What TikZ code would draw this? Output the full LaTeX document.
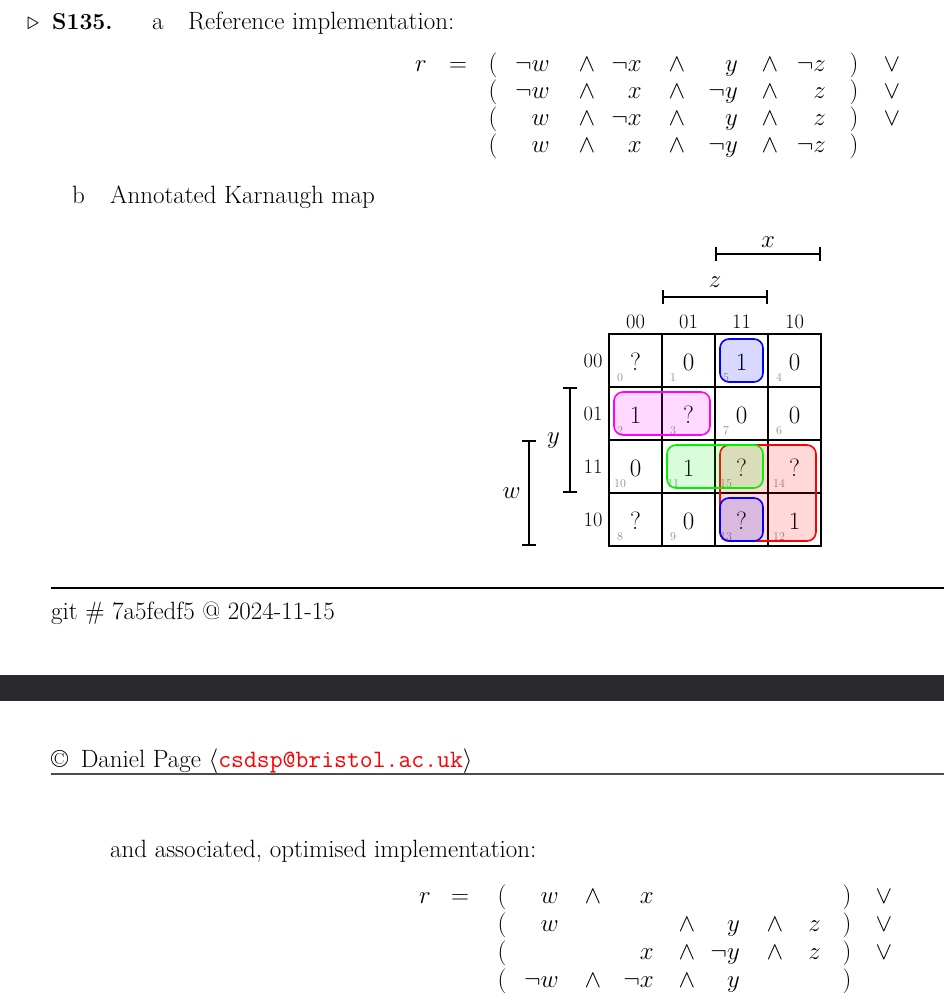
\documentclass[tikz,border=0pt]{standalone}
\usepackage{xcolor}
\usepackage{tikz}
\usetikzlibrary{arrows.meta,positioning,calc}

\definecolor{barcol}{RGB}{42,42,46}
\definecolor{kblue}{RGB}{0,0,255}
\definecolor{kmag}{RGB}{255,0,255}
\definecolor{kgreen}{RGB}{0,240,0}
\definecolor{kred}{RGB}{255,0,0}
\newcommand{\bodyfs}{\fontsize{25}{30}\selectfont}
\newcommand{\hdrfs}{\fontsize{20.5}{24}\selectfont}
\newcommand{\idxfs}{\fontsize{12}{14}\selectfont}

\begin{document}
\begin{tikzpicture}[x=1pt,y=-1pt,
  every node/.style={font=\bodyfs,inner sep=0pt},
  txt/.style={anchor=base west},
  sym/.style={anchor=base},
  opd/.style={anchor=base east},
  cell/.style={draw,line width=2pt,minimum size=53pt,outer sep=0pt,text height=19pt,text depth=0pt},
  idx/.style={anchor=base,font=\idxfs,text=black!45},
  hdr/.style={anchor=base,font=\hdrfs},
  span/.style={line width=2pt,{Bar[width=14pt]}-{Bar[width=14pt]}},
  grp/.style={draw=#1,fill=#1,fill opacity=.15,line width=1.6pt,rounded corners=9pt}]
\useasboundingbox (0,0) rectangle (944,1004);

% heading
\node[txt,font=\fontsize{34}{36}\selectfont] (tri) at (27,29) {$\triangleright$};
\node[txt,font=\fontsize{23}{28}\selectfont] (qid) at (52,29) {\textbf{S135.}};
\node[txt] (pa) at (152,29) {a};
\node[txt] (pa-t) at (188,29) {Reference implementation:};

% reference implementation
\node[sym] (r1) at (421,71) {$r$};
\node[sym] (eq1) at (458,71) {$=$};
\foreach \yy [count=\k] in {71,98,125,152} {
  \node[sym] (lp1-\k) at (493,\yy) {$($};
  \node[sym] (rp1-\k) at (854,\yy) {$)$};
  \foreach \xx [count=\j] in {587,677,770}
    \node[sym] (and1-\k-\j) at (\xx,\yy) {$\wedge$};
}
\foreach \k in {1,2,3}
  \node[sym] (or1-\k) at (892,{71+27*(\k-1)}) {$\vee$};
\foreach \xx/\yy/\v [count=\k] in {550/71/\neg w,642/71/\neg x,738/71/y,826/71/\neg z,
    550/98/\neg w,642/98/x,738/98/\neg y,826/98/z,
    550/125/w,642/125/\neg x,738/125/y,826/125/z,
    550/152/w,642/152/x,738/152/\neg y,826/152/\neg z}
  \node[opd] (v1-\k) at (\xx,\yy) {$\v$};

\node[txt] (pb) at (72,203) {b};
\node[txt] (pb-t) at (110,203) {Annotated Karnaugh map};

% karnaugh map
\foreach \v/\n [count=\k from 0] in {?/0,0/1,1/5,0/4,1/2,?/3,0/7,0/6,
    0/10,1/11,?/15,?/14,?/8,0/9,?/13,1/12} {
  \pgfmathtruncatemacro{\r}{\k/4}
  \pgfmathtruncatemacro{\c}{mod(\k,4)}
  \node[cell] (c-\r-\c) at (635.5+53*\c,360.5+53*\r) {\v};
  \node[idx] (i-\n) at ($(c-\r-\c.south west)+(11,-6)$) {\n};
}
\foreach \g [count=\c from 0] in {00,01,11,10} {
  \node[hdr] (ch-\c) at ($(c-0-\c.north)+(0,-6)$) {\g};
  \node[hdr] (rh-\c) at ($(c-\c-0.west)+(-16,7)$) {\g};
}

% spans
\coordinate (x-l) at ($(c-0-2.north west)+(0,-80)$);
\coordinate (x-r) at ($(c-0-3.north east)+(0,-80)$);
\coordinate (z-l) at ($(c-0-1.north west)+(0,-37)$);
\coordinate (z-r) at ($(c-0-2.north east)+(0,-37)$);
\coordinate (y-t) at ($(c-1-0.north west)+(-39,0)$);
\coordinate (y-b) at ($(c-2-0.south west)+(-39,0)$);
\coordinate (w-t) at ($(c-2-0.north west)+(-80,0)$);
\coordinate (w-b) at ($(c-3-0.south west)+(-80,0)$);
\draw[span] (x-l) -- (x-r);
\draw[span] (z-l) -- (z-r);
\draw[span] (y-t) -- (y-b);
\draw[span] (w-t) -- (w-b);
\node[sym] (lbl-x) at ($(x-l)!0.5!(x-r)+(0,-7)$) {$x$};
\node[sym] (lbl-z) at ($(z-l)!0.5!(z-r)+(0,-10)$) {$z$};
\node[opd] (lbl-y) at ($(y-t)!0.5!(y-b)+(-10,3)$) {$y$};
\node[opd] (lbl-w) at ($(w-t)!0.5!(w-b)+(-8,5)$) {$w$};

% groups
\draw[grp=kblue] ($(c-0-2.north west)+(5,5)$) rectangle ($(c-0-2.south east)+(-5,-5)$);
\draw[grp=kmag] ($(c-1-0.north west)+(5,5)$) rectangle ($(c-1-1.south east)+(-5,-5)$);
\draw[grp=kred] ($(c-2-2.north west)+(5,5)$) rectangle ($(c-3-3.south east)+(-5,-5)$);
\draw[grp=kgreen] ($(c-2-1.north west)+(5,5)$) rectangle ($(c-2-2.south east)+(-5,-5)$);
\draw[grp=kblue] ($(c-3-2.north west)+(5,5)$) rectangle ($(c-3-2.south east)+(-5,-5)$);

% footer
\draw[line width=1.5pt] (51,588) -- (944,588);
\node[txt] (git) at (51,619) {git \# 7a5fedf5 @ 2024-11-15};
\fill[barcol] (0,675) rectangle (944,701);
\node[txt] (copy) at (51,767) {\textcopyright\enspace Daniel Page $\langle${\ttfamily\color{kred}csdsp@bristol.ac.uk}$\rangle$};
\draw[black!70,line width=1.5pt] (51,774) -- (944,774);

% optimised implementation
\node[txt] (cont) at (110,857) {and associated, optimised implementation:};
\node[sym] (r2) at (425,903) {$r$};
\node[sym] (eq2) at (460,903) {$=$};
\foreach \yy [count=\k] in {903,931,959,987} {
  \node[sym] (lp2-\k) at (502,\yy) {$($};
  \node[sym] (rp2-\k) at (847,\yy) {$)$};
}
\foreach \k in {1,2,3}
  \node[sym] (or2-\k) at (884,{903+28*(\k-1)}) {$\vee$};
\foreach \xx/\yy [count=\k] in {593/903,687/931,775/931,687/959,775/959,593/987,687/987}
  \node[sym] (and2-\k) at (\xx,\yy) {$\wedge$};
\foreach \xx/\yy/\v [count=\k] in {559/903/w,654/903/x,
    559/931/w,740/931/y,821/931/z,
    654/959/x,740/959/\neg y,821/959/z,
    559/987/\neg w,654/987/\neg x,740/987/y}
  \node[opd] (v2-\k) at (\xx,\yy) {$\v$};
\end{tikzpicture}
\end{document}
